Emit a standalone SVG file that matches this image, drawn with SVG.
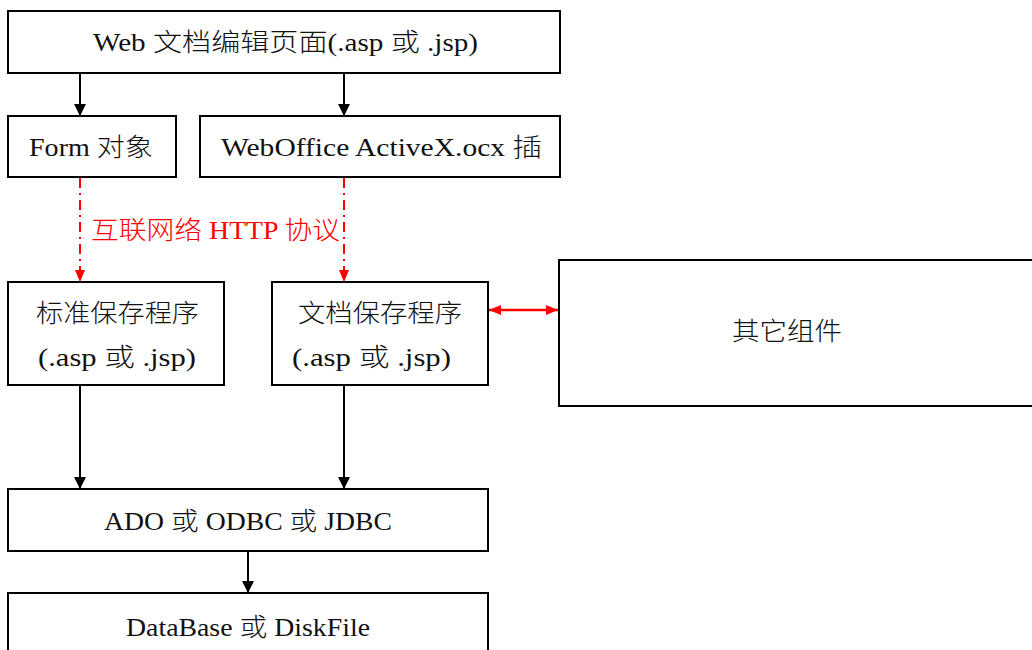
<svg xmlns="http://www.w3.org/2000/svg" width="1032" height="650" viewBox="0 0 1032 650">
<style>
.box{fill:#fff;stroke:#000;stroke-width:2}
.t{font-family:"Liberation Serif","Noto Sans CJK SC",serif;font-size:25px;font-weight:300;fill:#111}
.red{fill:#f00}
.line{stroke:#000;stroke-width:2;fill:none}
.dash{stroke:#f00;stroke-width:2;fill:none;stroke-dasharray:10 5 2 5}
.rl{stroke:#f00;stroke-width:2.5;fill:none}
</style>
<defs>
<marker id="ah" viewBox="0 0 10 12" refX="12" refY="6" markerWidth="10" markerHeight="12" markerUnits="userSpaceOnUse" orient="auto">
<path d="M0,0 L12,6 L0,12 z" fill="#000"/>
</marker>
<marker id="rh" viewBox="0 0 12 10" refX="12" refY="5" markerWidth="12" markerHeight="10" markerUnits="userSpaceOnUse" orient="auto">
<path d="M0,0 L12,5 L0,10 z" fill="#f00"/>
</marker>
<marker id="rhs" viewBox="0 0 12 10" refX="12" refY="5" markerWidth="12" markerHeight="10" markerUnits="userSpaceOnUse" orient="auto-start-reverse">
<path d="M0,0 L12,5 L0,10 z" fill="#f00"/>
</marker>
</defs>
<g id="connectors">
<line class="line" x1="80" y1="73" x2="80" y2="116" marker-end="url(#ah)"/>
<line class="line" x1="344" y1="73" x2="344" y2="116" marker-end="url(#ah)"/>
<line class="dash" x1="80" y1="178" x2="80" y2="282" marker-end="url(#rh)"/>
<line class="dash" x1="344" y1="178" x2="344" y2="282" marker-end="url(#rh)"/>
<line class="rl" x1="489" y1="310" x2="558" y2="310" marker-start="url(#rhs)" marker-end="url(#rhs)"/>
<line class="line" x1="80" y1="385" x2="80" y2="489" marker-end="url(#ah)"/>
<line class="line" x1="344" y1="385" x2="344" y2="489" marker-end="url(#ah)"/>
<line class="line" x1="248" y1="551" x2="248" y2="593" marker-end="url(#ah)"/>
<text class="t red" x="91" y="239" textLength="249" lengthAdjust="spacingAndGlyphs">互联网络 HTTP 协议</text>
</g>
<g id="web-page">
<rect class="box" x="8" y="11" width="552" height="62"/>
<text class="t" x="93" y="51" textLength="385" lengthAdjust="spacingAndGlyphs">Web 文档编辑页面(.asp  或  .jsp)</text>
</g>
<g id="form">
<rect class="box" x="8" y="116" width="168" height="61"/>
<text class="t" x="29" y="156" textLength="124" lengthAdjust="spacingAndGlyphs">Form 对象</text>
</g>
<g id="weboffice">
<rect class="box" x="200" y="116" width="360" height="61"/>
<text class="t" x="221" y="156" textLength="321" lengthAdjust="spacingAndGlyphs">WebOffice  ActiveX.ocx  插</text>
</g>
<g id="std-save">
<rect class="box" x="8" y="282" width="216" height="103"/>
<text class="t" x="36" y="322" textLength="163" lengthAdjust="spacingAndGlyphs">标准保存程序</text>
<text class="t" x="38" y="366" textLength="158" lengthAdjust="spacingAndGlyphs">(.asp  或  .jsp)</text>
</g>
<g id="doc-save">
<rect class="box" x="272" y="282" width="216" height="103"/>
<text class="t" x="298" y="322" textLength="164" lengthAdjust="spacingAndGlyphs">文档保存程序</text>
<text class="t" x="292" y="366" textLength="159" lengthAdjust="spacingAndGlyphs">(.asp  或  .jsp)</text>
</g>
<g id="other">
<rect class="box" x="559" y="260" width="480" height="146"/>
<text class="t" x="732" y="340" textLength="110" lengthAdjust="spacingAndGlyphs">其它组件</text>
</g>
<g id="ado">
<rect class="box" x="8" y="489" width="480" height="62"/>
<text class="t" x="104" y="530" textLength="288" lengthAdjust="spacingAndGlyphs">ADO 或 ODBC 或 JDBC</text>
</g>
<g id="database">
<rect class="box" x="8" y="593" width="480" height="70"/>
<text class="t" x="126" y="636" textLength="244" lengthAdjust="spacingAndGlyphs">DataBase 或 DiskFile</text>
</g>
</svg>
